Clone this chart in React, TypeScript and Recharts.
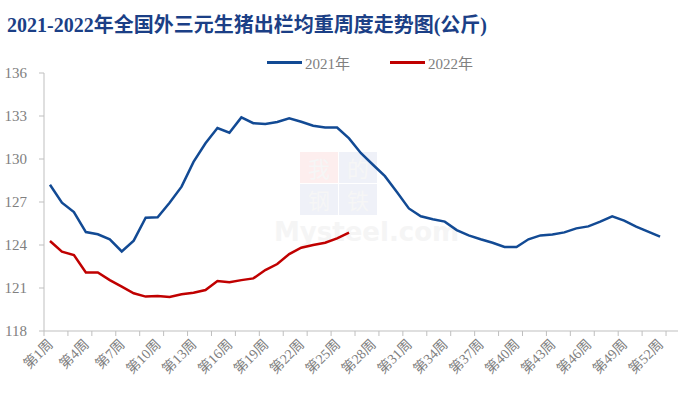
import React from "react";
import { Line, LineChart, XAxis, YAxis } from "recharts";

const weeks = Array.from({ length: 53 }, (_, i) => i + 1);

const series2021 = [
  128.2, 126.95, 126.3, 124.9, 124.75, 124.4, 123.55, 124.3, 125.9, 125.93,
  126.95, 128.07, 129.8, 131.1, 132.16, 131.83, 132.9, 132.5, 132.45, 132.58,
  132.84, 132.6, 132.32, 132.2, 132.2, 131.44, 130.4, 129.6, 128.8, 127.7,
  126.55, 126.0, 125.8, 125.63, 125.04, 124.67, 124.4, 124.16, 123.86, 123.86,
  124.4, 124.67, 124.74, 124.88, 125.16, 125.3, 125.63, 126.0, 125.7, 125.28,
  124.93, 124.58,
];

const series2022 = [
  124.28, 123.53, 123.3, 122.09, 122.09, 121.55, 121.09, 120.63, 120.4, 120.44,
  120.37, 120.56, 120.67, 120.86, 121.49, 121.4, 121.55, 121.67, 122.25, 122.67,
  123.37, 123.81, 124.0, 124.16, 124.46, 124.86,
];

const labelWeeks = [1, 4, 7, 10, 13, 16, 19, 22, 25, 28, 31, 34, 37, 40, 43, 46, 49, 52];
const markWeeks = [
  0.5, 2.5, 4.5, 6.5, 8.5, 10.5, 12.5, 14.5, 16.5, 18.5, 20.5, 22.5, 24.5, 26.5,
  28.5, 30.5, 32.5, 34.5, 36.5, 38.5, 40.5, 42.5, 44.5, 46.5, 48.5, 50.5, 52.5,
];
const yTicks = [118, 121, 124, 127, 130, 133, 136];

const TITLE = "2021-2022年全国外三元生猪出栏均重周度走势图(公斤)";
const SERIES = [
  { key: "y2021", name: "2021年", color: "#124a94" },
  { key: "y2022", name: "2022年", color: "#c00000" },
];

const FONT = "'Liberation Serif', 'Noto Sans CJK SC', serif";
const GRAY = "#808080";
const AXIS = "#bfbfbf";

const data = weeks.map((w, i) => ({
  week: w,
  y2021: series2021[i] ?? null,
  y2022: series2022[i] ?? null,
}));

const allTicks = [...markWeeks, ...labelWeeks].sort((a, b) => a - b);

function WeekTick({ x, y, payload }: { x?: number; y?: number; payload?: { value: number } }) {
  const v = payload?.value ?? 0;
  if (!Number.isInteger(v)) {
    return <line x1={x} x2={x} y1={y} y2={(y ?? 0) + 5} stroke={AXIS} strokeWidth={1} />;
  }
  const tx = (x ?? 0) + 4;
  const ty = (y ?? 0) + 14;
  return (
    <text
      x={tx}
      y={ty}
      textAnchor="end"
      fill={GRAY}
      fontSize={14}
      fontFamily={FONT}
      transform={`rotate(-45, ${tx}, ${ty})`}
    >
      {`第${v}周`}
    </text>
  );
}

// faint "我的钢铁 Mysteel.com" watermark behind the lines
function Watermark() {
  const cells = [
    { ch: "我", x: 300, y: 152, bg: "#fdeeee" },
    { ch: "的", x: 339, y: 152, bg: "#eff1f8" },
    { ch: "钢", x: 300, y: 184, bg: "#eff1f8" },
    { ch: "铁", x: 339, y: 184, bg: "#eff1f8" },
  ];
  return (
    <div style={{ position: "absolute", left: 0, top: 0, width: 700, height: 395, pointerEvents: "none" }}>
      {cells.map((c) => (
        <div
          key={c.ch}
          style={{
            position: "absolute",
            left: c.x,
            top: c.y,
            width: 38,
            height: 31,
            background: c.bg,
            color: "#f6f6f6",
            fontSize: 22,
            lineHeight: "31px",
            textAlign: "center",
            overflow: "hidden",
            fontFamily: "'Noto Sans CJK SC', sans-serif",
          }}
        >
          {c.ch}
        </div>
      ))}
      <div
        style={{
          position: "absolute",
          left: 274,
          top: 218,
          fontFamily: "'DejaVu Sans', sans-serif",
          fontWeight: "bold",
          fontSize: 26,
          lineHeight: "28px",
          color: "#f5f5f5",
          whiteSpace: "nowrap",
        }}
      >
        Mysteel.com
      </div>
    </div>
  );
}

export default function App() {
  return (
    <div style={{ position: "fixed", left: 0, top: 0, width: 700, height: 395, background: "#fff" }}>
      <Watermark />
      <div
        style={{
          position: "absolute",
          left: 7,
          top: 12,
          fontFamily: FONT,
          fontWeight: "bold",
          fontSize: 20,
          color: "#1b3f86",
          whiteSpace: "nowrap",
          lineHeight: "26px",
        }}
      >
        {TITLE}
      </div>
      <div style={{ position: "absolute", left: 267, top: 51, display: "flex", fontFamily: FONT, fontSize: 15, color: GRAY }}>
        {SERIES.map((s, i) => (
          <div key={s.key} style={{ display: "flex", alignItems: "center", marginRight: i === 0 ? 40 : 0, height: 22 }}>
            <div style={{ width: 35, height: 3, background: s.color, marginRight: 3 }} />
            <span>{s.name}</span>
          </div>
        ))}
      </div>
      <div style={{ position: "absolute", left: 0, top: 0 }}>
        <LineChart width={700} height={395} data={data} margin={{ top: 73, right: 22, left: 0, bottom: 0 }}>
          <XAxis
            dataKey="week"
            type="number"
            domain={[0.5, 53.5]}
            ticks={allTicks}
            interval={0}
            tickLine={false}
            tickSize={0}
            tickMargin={0}
            height={64}
            axisLine={{ stroke: AXIS }}
            tick={<WeekTick />}
          />
          <YAxis
            type="number"
            domain={[118, 136]}
            ticks={yTicks}
            interval={0}
            width={44}
            tickSize={5}
            tickMargin={12}
            axisLine={{ stroke: AXIS }}
            tickLine={{ stroke: AXIS }}
            tick={{ fill: GRAY, fontSize: 15, fontFamily: FONT }}
          />
          {SERIES.map((s) => (
            <Line
              key={s.key}
              dataKey={s.key}
              name={s.name}
              stroke={s.color}
              strokeWidth={2.5}
              dot={false}
              activeDot={false}
              isAnimationActive={false}
              connectNulls={false}
            />
          ))}
        </LineChart>
      </div>
    </div>
  );
}
